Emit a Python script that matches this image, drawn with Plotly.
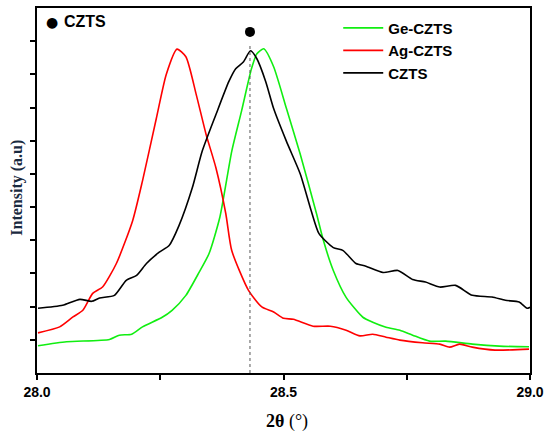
import plotly.graph_objects as go

# Data
ge_x = [28.002, 28.060, 28.147, 28.167, 28.192, 28.214, 28.254, 28.274, 28.302, 28.329,
        28.349, 28.371, 28.395, 28.415, 28.435, 28.446, 28.460, 28.480, 28.506, 28.534,
        28.567, 28.581, 28.601, 28.627, 28.661, 28.681, 28.708, 28.736, 28.762, 28.796,
        28.829, 28.883, 28.938, 28.998]
ge_y = [0.82, 0.94, 1.01, 1.14, 1.17, 1.39, 1.68, 1.89, 2.34, 3.04,
        3.60, 4.70, 6.68, 7.90, 9.17, 9.62, 9.77, 9.23, 7.97, 6.59,
        4.80, 3.99, 3.09, 2.28, 1.68, 1.53, 1.38, 1.29, 1.14, 0.96,
        0.96, 0.87, 0.81, 0.79]

ag_x = [28.002, 28.046, 28.073, 28.093, 28.113, 28.133, 28.161, 28.194, 28.214, 28.242,
        28.262, 28.284, 28.302, 28.323, 28.343, 28.363, 28.383, 28.395, 28.429, 28.456,
        28.480, 28.500, 28.520, 28.560, 28.595, 28.627, 28.655, 28.681, 28.708, 28.736,
        28.782, 28.817, 28.837, 28.857, 28.883, 28.929, 28.998]
ag_y = [1.21, 1.39, 1.69, 1.89, 2.40, 2.59, 3.30, 4.59, 5.79, 7.67,
        8.99, 9.76, 9.53, 8.39, 7.19, 6.18, 4.80, 3.69, 2.49, 1.99,
        1.84, 1.65, 1.62, 1.41, 1.41, 1.29, 1.12, 1.17, 1.08, 0.99,
        0.91, 0.87, 0.78, 0.87, 0.78, 0.69, 0.72]

czts_x = [28.002, 28.052, 28.087, 28.111, 28.127, 28.157, 28.181, 28.202, 28.222, 28.248,
          28.268, 28.288, 28.315, 28.335, 28.363, 28.389, 28.403, 28.419, 28.433, 28.446,
          28.464, 28.480, 28.506, 28.534, 28.556, 28.572, 28.601, 28.621, 28.647, 28.667,
          28.702, 28.732, 28.762, 28.788, 28.817, 28.849, 28.883, 28.923, 28.950, 28.978,
          28.994, 29.000]
czts_y = [1.95, 2.04, 2.22, 2.16, 2.26, 2.34, 2.79, 2.94, 3.30, 3.64,
          3.84, 4.44, 5.58, 6.68, 7.79, 8.78, 9.17, 9.38, 9.71, 9.47,
          8.78, 7.97, 6.98, 6.00, 4.90, 4.20, 3.78, 3.69, 3.30, 3.22,
          3.03, 3.09, 2.82, 2.74, 2.59, 2.64, 2.34, 2.29, 2.19, 2.14,
          1.95, 1.98]

peak_x = [28.432]
peak_y = [10.28]
x_tickvals = [28.0, 28.25, 28.5, 28.75, 29.0]
x_ticktext = ["28.0", "", "28.5", "", "29.0"]
y_tickvals = [1, 2, 3, 4, 5, 6, 7, 8, 9, 10]

fig = go.Figure()
fig.add_trace(go.Scatter(x=ge_x, y=ge_y, mode="lines", name="Ge-CZTS",
                         line=dict(color="#11ee11", width=1.6, shape="spline", smoothing=0.6)))
fig.add_trace(go.Scatter(x=ag_x, y=ag_y, mode="lines", name="Ag-CZTS",
                         line=dict(color="#ff0000", width=1.6, shape="spline", smoothing=0.6)))
fig.add_trace(go.Scatter(x=czts_x, y=czts_y, mode="lines", name="CZTS",
                         line=dict(color="#000000", width=1.6, shape="spline", smoothing=0.6)))
fig.add_trace(go.Scatter(x=peak_x, y=peak_y, mode="markers", showlegend=False,
                         marker=dict(color="black", size=10)))

fig.add_shape(type="line", x0=peak_x[0], x1=peak_x[0], y0=0, y1=peak_y[0] - 0.35,
              line=dict(color="#555555", width=1, dash="dot"))

fig.add_annotation(x=0.030, y=0.962, xref="paper", yref="paper", xanchor="center", yanchor="middle",
                   text="●", showarrow=False,
                   font=dict(family="DejaVu Sans", size=14, color="black"))
fig.add_annotation(x=0.050, y=0.962, xref="paper", yref="paper", xanchor="left", yanchor="middle",
                   text="CZTS", showarrow=False,
                   font=dict(family="Liberation Sans, Arial", size=16, color="black", weight="bold"))

fig.add_annotation(x=0.508, y=-0.134, xref="paper", yref="paper", xanchor="center", yanchor="middle",
                   text="<b>2θ</b> (°)", showarrow=False,
                   font=dict(family="Liberation Serif, Times New Roman", size=18, color="black"))
fig.add_annotation(x=-0.041, y=0.507, xref="paper", yref="paper", xanchor="center", yanchor="middle",
                   text="<b>Intensity (a.u)</b>", textangle=-90, showarrow=False,
                   font=dict(family="Liberation Serif, Times New Roman", size=16, color="#1a2a40"))

fig.update_layout(
    width=550, height=434,
    margin=dict(l=37, r=17, t=6, b=61),
    paper_bgcolor="white", plot_bgcolor="white",
    showlegend=True,
    legend=dict(x=0.611, y=0.99, xanchor="left", yanchor="top", bgcolor="rgba(0,0,0,0)",
                font=dict(family="Liberation Sans, Arial", size=15, color="black", weight="bold"),
                tracegroupgap=0, itemwidth=40),
    xaxis=dict(range=[28.0, 29.0], tickvals=x_tickvals, ticktext=x_ticktext,
               ticks="outside", ticklen=5, tickwidth=1.5, tickcolor="black",
               showline=True, linecolor="black", linewidth=1.8, mirror=True,
               showgrid=False, zeroline=False,
               tickfont=dict(family="Liberation Sans, Arial", size=14, color="black", weight="bold")),
    yaxis=dict(range=[0, 11], tickvals=y_tickvals, showticklabels=False,
               ticks="outside", ticklen=5, tickwidth=1.5, tickcolor="black",
               showline=True, linecolor="black", linewidth=1.8, mirror=True,
               showgrid=False, zeroline=False),
)

fig.write_html("out.html")
